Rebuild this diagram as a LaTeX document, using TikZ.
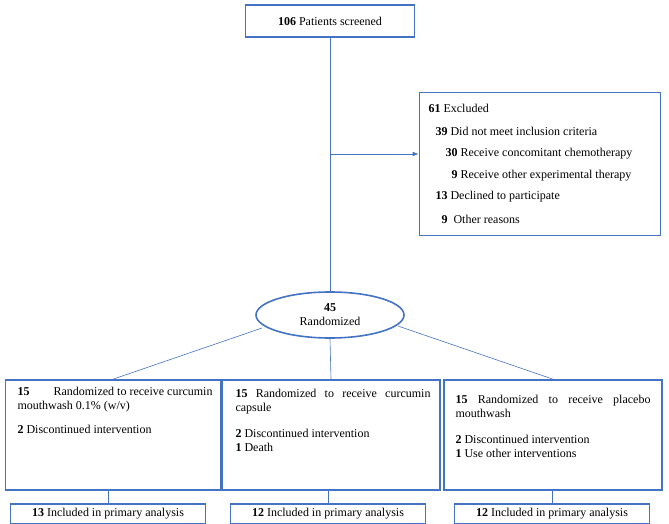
\documentclass[tikz,border=0pt]{standalone}
\usepackage{fontspec}
\setmainfont{Liberation Serif}
\usetikzlibrary{shapes.geometric,arrows.meta}
\definecolor{bx}{RGB}{68,114,196}
\begin{document}
\begin{tikzpicture}[x=1pt,y=-1pt,font=\fontsize{12}{14}\selectfont,
 box/.style={draw=bx,line width=1.6pt,inner sep=0pt},
 ln/.style={draw=bx,line width=0.6pt},
 txt/.style={anchor=north west,text width=195,align=justify,execute at begin node={\hyphenpenalty=10000\exhyphenpenalty=10000}}]
\useasboundingbox (0,0) rectangle (669,524);
\node[box,minimum width=169,minimum height=32] (top) at (330,21) {\textbf{106} Patients screened};
\node[box,minimum width=241,minimum height=143] (exc) at (540,164) {};
\node[anchor=west] (e1) at (425,108) {\textbf{61} Excluded};
\node[anchor=west] (e2) at (432,131) {\textbf{39} Did not meet inclusion criteria};
\node[anchor=west] (e3) at (442,154) {\textbf{30} Receive concomitant chemotherapy};
\node[anchor=west] (e4) at (442,176) {\textbf{~~9} Receive other experimental therapy};
\node[anchor=west] (e5) at (432,197) {\textbf{13} Declined to participate};
\node[anchor=west] (e6) at (432,219) {\textbf{~~9}~ Other reasons};
\node[box,ellipse,minimum width=148,minimum height=46,align=center,inner sep=0pt] (rand) at (330,315) {\textbf{45}\\Randomized};
\coordinate (br) at (330,154);
\draw[ln] (top) -- (rand);
\draw[ln,-{Latex[length=6pt]}] (br) -- (exc.west|-br);
\node[box,minimum width=215,minimum height=110] (b1) at (113,435) {};
\node[box,minimum width=218,minimum height=110] (b2) at (331,435) {};
\node[box,minimum width=218,minimum height=110] (b3) at (553,435) {};
\node[txt] (t1) at (14,384) {\textbf{15}\qquad Randomized to receive curcumin mouthwash 0.1\% (w/v)\\[10pt]\textbf{2} Discontinued intervention};
\node[txt] (t2) at (232,386) {\textbf{15} Randomized to receive curcumin capsule\\[12pt]\textbf{2} Discontinued intervention\\\textbf{1} Death};
\node[txt] (t3) at (452,392) {\textbf{15} Randomized to receive placebo mouthwash\\[12pt]\textbf{2} Discontinued intervention\\\textbf{1} Use other interventions};
\coordinate (r1) at (262,328);
\coordinate (r3) at (398,326);
\draw[ln] (r1) -- (b1.north);
\draw[ln] (rand.south) -- (b2.north);
\draw[ln] (r3) -- (b3.north);
\node[box,minimum width=195,minimum height=20] (c1) at (108,514) {\textbf{13} Included in primary analysis};
\node[box,minimum width=195,minimum height=20] (c2) at (328,514) {\textbf{12} Included in primary analysis};
\node[box,minimum width=195,minimum height=20] (c3) at (552,514) {\textbf{12} Included in primary analysis};
\draw[ln] (b1.south-|c1.north) -- (c1.north);
\draw[ln] (b2.south-|c2.north) -- (c2.north);
\draw[ln] (b3.south-|c3.north) -- (c3.north);
\end{tikzpicture}
\end{document}
